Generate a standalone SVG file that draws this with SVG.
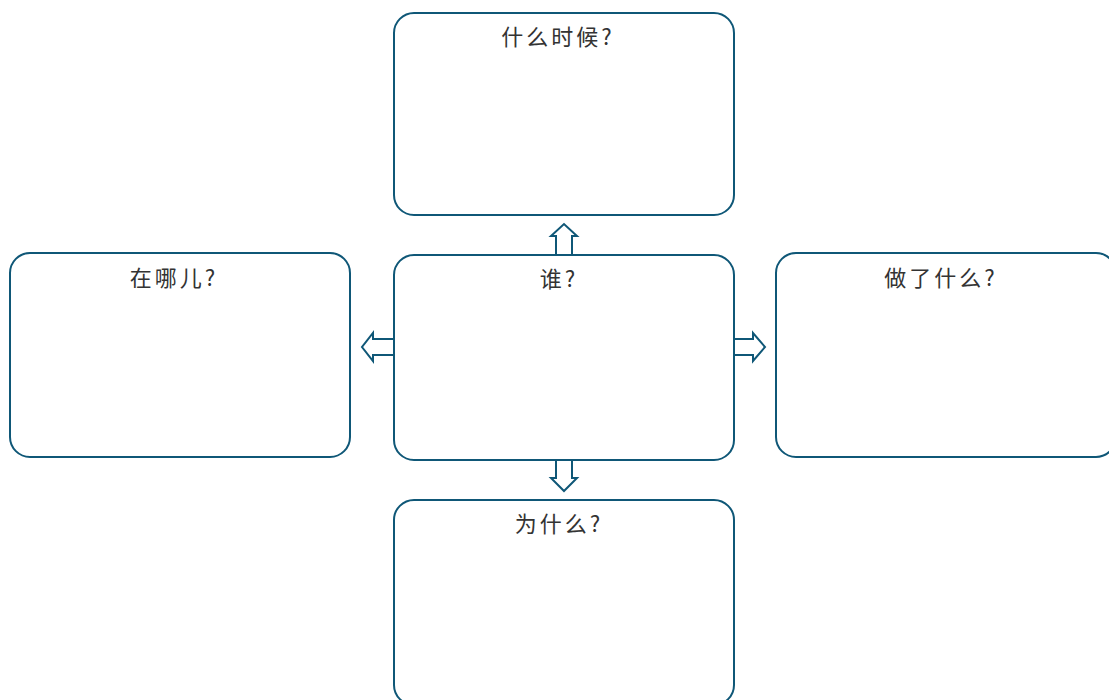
<svg xmlns="http://www.w3.org/2000/svg" width="1109" height="700" viewBox="0 0 1109 700">
  <style>
    .box { fill: #ffffff; stroke: #0f5777; stroke-width: 2; }
    .arrow { fill: #ffffff; stroke: #0f5777; stroke-width: 2; stroke-linejoin: miter; }
    .label { font-family: "Noto Sans CJK SC", "Noto Sans", sans-serif; font-size: 22px; fill: #333333; text-anchor: middle; letter-spacing: 3px; }
  </style>
  <rect width="1109" height="700" fill="#ffffff"/>

  <g id="connectors">
    <!-- up: 谁 -> 什么时候 -->
    <path class="arrow" d="M556,254 V236 H551 L564,224 L577,236 H572 V254"/>
    <!-- left: 谁 -> 在哪儿 -->
    <path class="arrow" d="M394,339 H373 V333 L362,347 L373,361 V355 H394"/>
    <!-- right: 谁 -> 做了什么 -->
    <path class="arrow" d="M734,339 H753 V333 L765,347 L753,361 V355 H734"/>
    <!-- down: 谁 -> 为什么 -->
    <path class="arrow" d="M556,460 V478 H551 L564,491 L577,478 H572 V460"/>
  </g>

  <g id="node-when">
    <rect class="box" x="394" y="13" width="340" height="202" rx="20"/>
    <text class="label" x="558" y="45">什么时候?</text>
  </g>

  <g id="node-who">
    <rect class="box" x="394" y="255" width="340" height="205" rx="20"/>
    <text class="label" x="559" y="287">谁?</text>
  </g>

  <g id="node-where">
    <rect class="box" x="10" y="253" width="340" height="204" rx="20"/>
    <text class="label" x="174" y="286">在哪儿?</text>
  </g>

  <g id="node-what">
    <rect class="box" x="776" y="253" width="340" height="204" rx="20"/>
    <text class="label" x="941" y="286">做了什么?</text>
  </g>

  <g id="node-why">
    <rect class="box" x="394" y="500" width="340" height="205" rx="20"/>
    <text class="label" x="559" y="532">为什么?</text>
  </g>
</svg>
